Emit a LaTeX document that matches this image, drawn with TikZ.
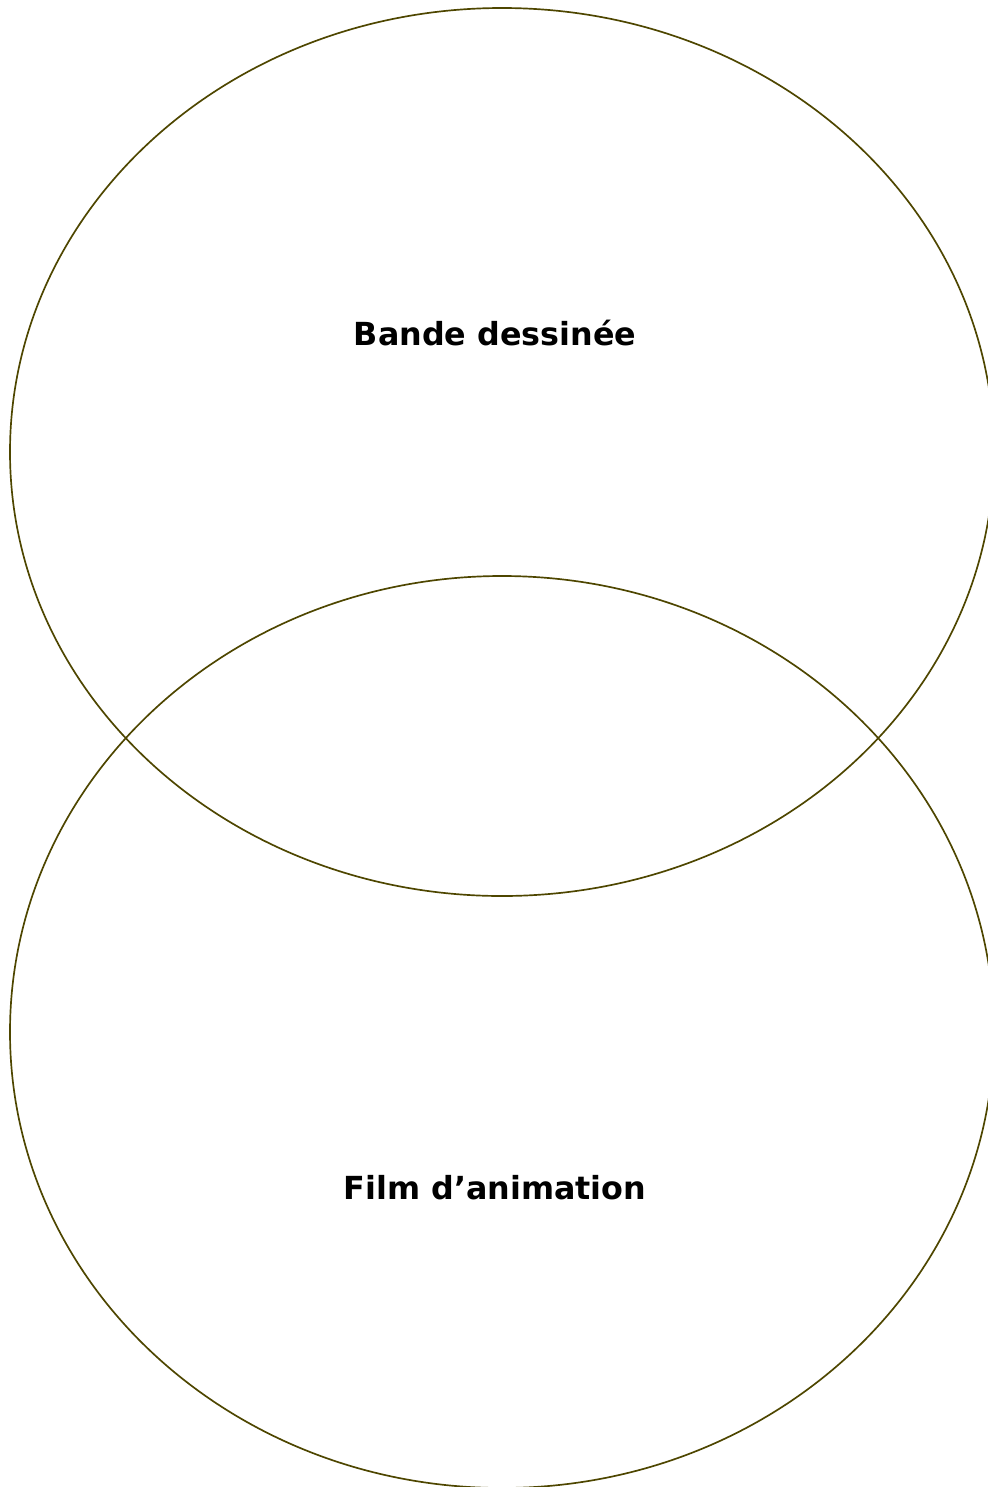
\documentclass[tikz,border=0pt]{standalone}
\usepackage{fontspec}
\setmainfont{DejaVu Sans}
\usepackage{xcolor}
\definecolor{vennOlive}{RGB}{78,70,0}

\begin{document}
\begin{tikzpicture}[x=0.25mm,y=-0.25mm]
\path[use as bounding box] (0,0) rectangle (988,1487);
\draw[vennOlive,line width=0.42mm] (502,452) ellipse [x radius=492,y radius=444];
\draw[vennOlive,line width=0.42mm] (502,1032) ellipse [x radius=492,y radius=456];

\node[text=black,font=\bfseries\fontsize{22.6}{24}\selectfont] (bd) at (495,333) {Bande dessinée};
\node[text=black,font=\bfseries\fontsize{22.6}{24}\selectfont] (film) at (495,1188) {Film d’animation};
\end{tikzpicture}
\end{document}
